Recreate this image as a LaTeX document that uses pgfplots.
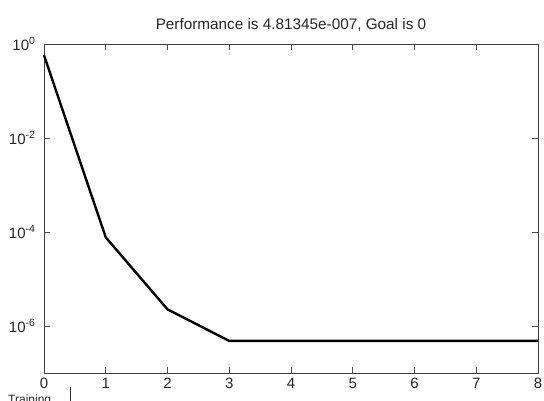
\documentclass[border=0pt]{standalone}
\usepackage{pgfplots}
\pgfplotsset{compat=1.18}
\usepackage{fontspec}
\setmainfont{Liberation Sans}
\begin{document}
\begin{tikzpicture}[x=1pt,y=1pt]
\begin{axis}[
  at={(44pt,28pt)}, anchor=south west,
  scale only axis, width=494pt, height=329pt,
  ymode=log, xmin=0, xmax=8, ymin=1e-7, ymax=1,
  xtick={0,1,2,3,4,5,6,7,8},
  ytick={1,1e-2,1e-4,1e-6},
  yticklabels={10\textsuperscript{0},10\textsuperscript{-2},10\textsuperscript{-4},10\textsuperscript{-6}},
  yminorticks=false,
  tick align=inside, major tick length=6pt,
  xtick pos=both, ytick pos=both,
  axis line style={line width=0.9pt, black!75},
  tick style={line width=0.9pt, black!70},
  /pgf/number format/assume math mode=true,
  ticklabel style={font=\fontsize{15}{16}\selectfont, black!85},
  xticklabel style={yshift=-4pt, inner sep=1pt},
  yticklabel style={xshift=-5pt},
  title={Performance is 4.81345e-007, Goal is 0},
  title style={font=\fontsize{15.3}{16}\selectfont, black!85, yshift=3pt},
  clip=false,
]
\addplot[black, line width=2.4pt] coordinates {
  (0,0.58) (1,7.7e-5) (2,2.26e-6) (3,4.81345e-7) (4,4.81345e-7) (5,4.81345e-7) (6,4.81345e-7) (7,4.81345e-7) (8,4.81345e-7)
};
\end{axis}
\node[anchor=north west, inner sep=0pt, font=\fontsize{12}{13}\selectfont, black!85] at (8pt,6pt) {Training};
\draw[black!80, line width=0.8pt] (70pt,14pt) -- (70pt,-2pt);
\pgfresetboundingbox
\path[use as bounding box] (0pt,0pt) rectangle (544pt,401pt);
\end{tikzpicture}
\end{document}
